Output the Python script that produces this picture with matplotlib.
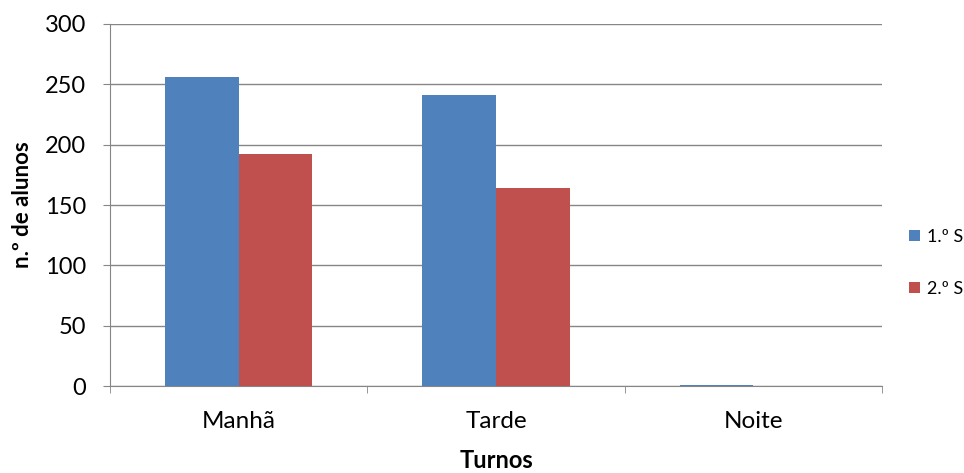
import numpy as np
import matplotlib.pyplot as plt
from matplotlib.ticker import FixedLocator

plt.rcParams['font.family'] = ['Lato', 'DejaVu Sans']

turnos = ['Manhã', 'Tarde', 'Noite']
s1 = [256, 241, 1]
s2 = [192, 164, 0]
y_ticks = [0, 50, 100, 150, 200, 250, 300]

fig = plt.figure(figsize=(9.64, 4.73), dpi=100)
ax = fig.add_axes([110/964, 1-386/473, 772/964, 362/473])

x = np.arange(len(turnos))
w = 1/3.5
ax.bar(x - w/2, s1, w, color='#4F81BD', label='1.º S', zorder=3)
ax.bar(x + w/2, s2, w, color='#C0504D', label='2.º S', zorder=3)

ax.set_xlim(-0.5, 2.5)
ax.set_ylim(0, 300)
ax.set_yticks(y_ticks)
ax.yaxis.grid(True, color='#868686', lw=1, zorder=0)

ax.set_xticks(x)
ax.set_xticklabels(turnos, fontsize=17.5)
ax.xaxis.set_minor_locator(FixedLocator([-0.5, 0.5, 1.5, 2.5]))
ax.tick_params(axis='x', which='major', length=0, pad=18)
ax.tick_params(axis='x', which='minor', length=5, color='#868686', direction='out')
ax.tick_params(axis='y', length=5, color='#868686', labelsize=17, pad=12)

for s in ['top', 'right']:
    ax.spines[s].set_visible(False)
for s in ['left', 'bottom']:
    ax.spines[s].set_color('#868686')

ax.set_ylabel('n.º de alunos', fontsize=16, fontweight='bold', labelpad=9)
ax.set_xlabel('Turnos', fontsize=17, fontweight='bold', labelpad=12.5)

ax.legend(loc='upper left', bbox_to_anchor=(909/964, 1-229/473),
          bbox_transform=fig.transFigure, frameon=False,
          fontsize=13, handlelength=0.6, handleheight=0.6, labelspacing=2.0,
          handletextpad=0.4, borderpad=0, borderaxespad=0)

fig.savefig('out.png', dpi=100)
